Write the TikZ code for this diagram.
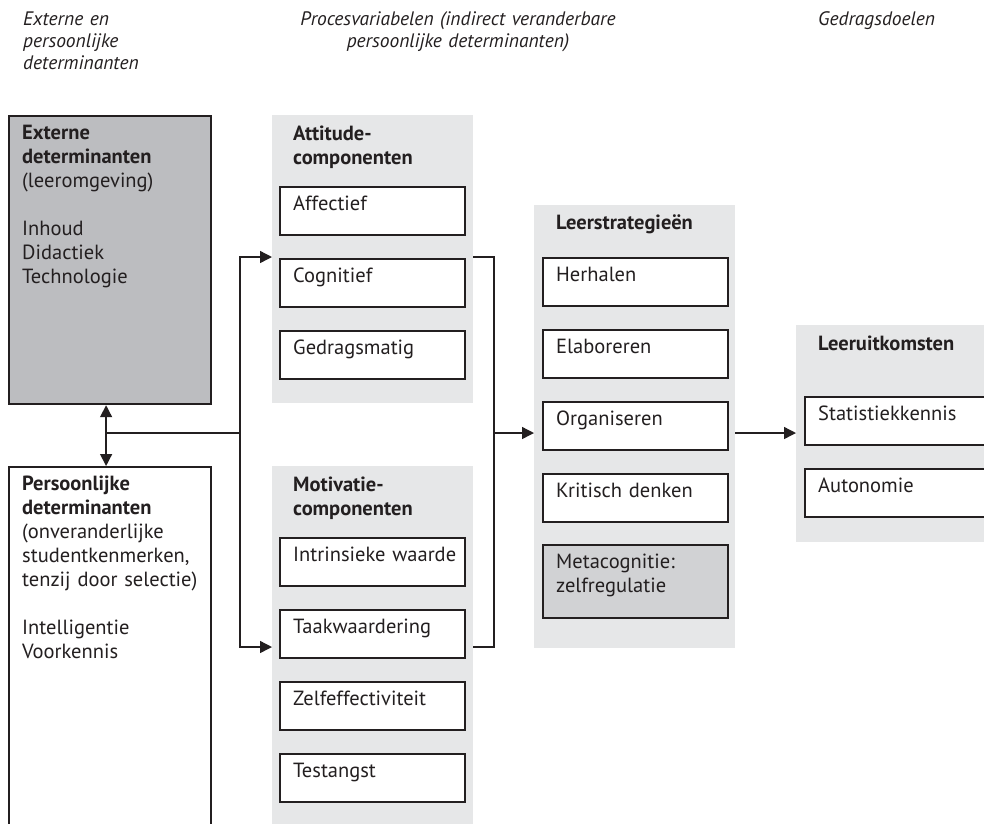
\documentclass[tikz,border=0pt]{standalone}
\usepackage{fontspec}
\setmainfont{PT Sans}
\usetikzlibrary{arrows.meta}

\definecolor{panelgray}{HTML}{E6E7E8}
\definecolor{extgray}{HTML}{BCBDC0}
\definecolor{metagray}{HTML}{D1D2D4}
\definecolor{ink}{HTML}{231F20}

\newcommand\bodyfont{\fontsize{20.5}{24}\selectfont}
\newcommand\headfont{\fontsize{19.5}{22}\selectfont\itshape}

\begin{document}
\begin{tikzpicture}[x=1pt,y=-1pt,
  panel/.style={fill=panelgray, draw=none, anchor=north west, inner sep=0, outer sep=0, minimum width=201pt},
  bigbox/.style={draw=ink, line width=2.2pt, anchor=north west, inner sep=0, minimum width=202pt, minimum height=288pt},
  item/.style={draw=ink, line width=2.2pt, fill=white, anchor=north west, inner sep=0, minimum width=185pt, minimum height=48pt},
  txt/.style={anchor=base west, inner sep=0, align=left, text width=220pt, font=\bodyfont, text=ink},
  toplbl/.style={anchor=base west, inner sep=0, align=left, text width=200pt, font=\headfont, text=ink},
  conn/.style={draw=ink, line width=1.4pt},
  >={Triangle[length=12pt,width=12pt]}]
 \def\tx{14}
 \def\ty{24}

 \useasboundingbox (0,0) rectangle (984,823);
 \clip (0,0) rectangle (984,823);

 %column headings
 \node[toplbl] (lblext) at (23,25) {Externe en\\persoonlijke\\determinanten};
 \node[toplbl, anchor=base, align=center, text width=380pt] (lblproc) at (458,25)
  {Procesvariabelen (indirect veranderbare\\persoonlijke determinanten)};
 \node[toplbl] (lblgoal) at (818,25) {Gedragsdoelen};

 %determinants
 \node[bigbox, fill=extgray] (ext) at (8,115) {};
 \node[bigbox, fill=white, minimum height=400pt] (pers) at (8,466) {};
 \node[txt] (extT) at ([shift={(\tx,\ty)}]ext.north west)
  {\textbf{Externe}\\\textbf{determinanten}\\(leeromgeving)\\[24pt]Inhoud\\Didactiek\\Technologie};
 \node[txt] (persT) at ([shift={(\tx,\ty)}]pers.north west)
  {\textbf{Persoonlijke}\\\textbf{determinanten}\\(onveranderlijke\\studentkenmerken,\\tenzij door selectie)\\[24pt]Intelligentie\\Voorkennis};

 %attitude panel
 \node[panel, minimum height=288pt] (att) at (272,115) {};
 \node[txt] (attT) at ([shift={(21,25)}]att.north west) {\textbf{Attitude-}\\\textbf{componenten}};
 \node[item] (aff) at (279,186) {};
 \node[item] (cog) at (279,258) {};
 \node[item] (ged) at (279,330) {};
 \node[txt] (affT) at ([shift={(\tx,\ty)}]aff.north west) {Affectief};
 \node[txt] (cogT) at ([shift={(\tx,\ty)}]cog.north west) {Cognitief};
 \node[txt] (gedT) at ([shift={(\tx,\ty)}]ged.north west) {Gedragsmatig};

 %motivation panel
 \node[panel, minimum height=380pt] (mot) at (272,466) {};
 \node[txt] (motT) at ([shift={(21,25)}]mot.north west) {\textbf{Motivatie-}\\\textbf{componenten}};
 \node[item] (intr) at (279,537) {};
 \node[item] (taak) at (279,609) {};
 \node[item] (zelf) at (279,681) {};
 \node[item] (test) at (279,753) {};
 \node[txt] (intrT) at ([shift={(\tx,\ty)}]intr.north west) {Intrinsieke waarde};
 \node[txt] (taakT) at ([shift={(\tx,\ty)}]taak.north west) {Taakwaardering};
 \node[txt] (zelfT) at ([shift={(\tx,\ty)}]zelf.north west) {Zelfeffectiviteit};
 \node[txt] (testT) at ([shift={(\tx,\ty)}]test.north west) {Testangst};

 %strategies panel
 \node[panel, minimum height=443pt] (strat) at (534,205) {};
 \node[txt] (stratT) at ([shift={(22,24)}]strat.north west) {\textbf{Leerstrategieën}};
 \node[item] (herh) at (542,257) {};
 \node[item] (elab) at (542,329) {};
 \node[item] (org) at (542,401) {};
 \node[item] (krit) at (542,473) {};
 \node[item, fill=metagray, minimum height=73pt] (meta) at (542,544) {};
 \node[txt] (herhT) at ([shift={(\tx,\ty)}]herh.north west) {Herhalen};
 \node[txt] (elabT) at ([shift={(\tx,\ty)}]elab.north west) {Elaboreren};
 \node[txt] (orgT) at ([shift={(\tx,\ty)}]org.north west) {Organiseren};
 \node[txt] (kritT) at ([shift={(\tx,\ty)}]krit.north west) {Kritisch denken};
 \node[txt] (metaT) at ([shift={(\tx,\ty)}]meta.north west) {Metacognitie:\\zelfregulatie};

 %outcomes panel
 \node[panel, minimum height=217pt] (uit) at (796,325) {};
 \node[txt] (uitT) at ([shift={(22,25)}]uit.north west) {\textbf{Leeruitkomsten}};
 \node[item] (stat) at (804,396) {};
 \node[item] (auto) at (804,468) {};
 \node[txt] (statT) at ([shift={(\tx,\ty)}]stat.north west) {Statistiekkennis};
 \node[txt] (autoT) at ([shift={(\tx,\ty)}]auto.north west) {Autonomie};

 %connectors
 \coordinate (split) at (240,433);
 \coordinate (merge) at (494,433);
 \coordinate (attin) at (att.west |- 0,257);
 \coordinate (motin) at (mot.west |- 0,647);

 \draw[conn,<->] ([xshift=-4pt]ext.south) -- ([xshift=-4pt]pers.north);
 \draw[conn] ([xshift=-4pt]ext.south |- split) -- (split);
 \draw[conn,->] (split) |- (attin);
 \draw[conn,->] (split) |- (motin);
 \draw[conn] (att.east |- attin) -| (merge) |- (mot.east |- motin);
 \draw[conn,->] (merge) -- (strat.west |- merge);
 \draw[conn,->] (strat.east |- merge) -- (uit.west |- merge);
\end{tikzpicture}
\end{document}
